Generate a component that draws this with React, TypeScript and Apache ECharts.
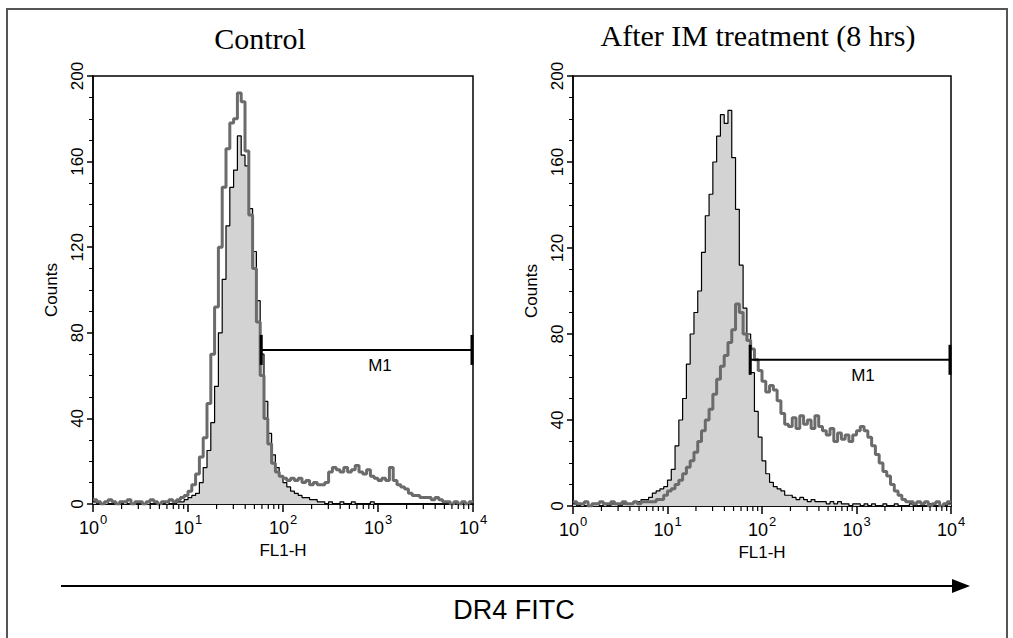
import React, { useEffect, useRef } from 'react';
import * as echarts from 'echarts';

// Histogram counts per log-channel bin (100 bins spanning 10^0 .. 10^4)
const LEFT_FILLED = [
  1, 0, 0, 1, 0, 0, 0, 0, 1, 0, 0, 0, 0, 0, 1, 0, 0, 0, 0, 1, 0, 0, 1,
  1, 2, 3, 4, 5, 10, 17, 25, 38, 55, 80, 105, 130, 148, 156, 172, 163, 158, 138, 118,
  95, 70, 48, 33, 23, 17, 13, 10, 8, 6, 5, 4, 3, 3, 2, 2, 1, 1,
  0, 1, 0, 0, 1, 0, 0, 1, 0, 0, 0, 0, 1, 0, 0, 0, 0, 0, 0, 0,
  0, 0, 0, 0, 0, 0, 0, 0, 0, 0, 0, 0, 0, 0, 0, 0, 0, 0, 0,
];
const LEFT_GRAY = [
  2, 1, 0, 1, 2, 1, 0, 1, 1, 2, 0, 1, 1, 0, 1, 2, 1, 0, 1, 1, 2, 1, 2,
  3, 4, 6, 9, 14, 22, 31, 47, 70, 92, 120, 148, 166, 178, 180, 192, 188, 165, 135, 110,
  85, 60, 40, 28, 19, 15, 13, 12, 11, 12, 11, 12, 10, 11, 9, 10, 9, 9, 10,
  15, 17, 16, 15, 17, 15, 16, 18, 15, 14, 16, 13, 12, 11, 12, 11, 17, 11, 9, 8,
  7, 5, 4, 4, 3, 3, 3, 2, 3, 2, 1, 1, 0, 1, 0, 1, 0, 1,
];
const RIGHT_FILLED = [
  1, 0, 1, 0, 0, 1, 1, 0, 1, 0, 1, 1, 0, 1, 1,
  1, 2, 2, 3, 3, 4, 6, 7, 8, 9, 12, 17, 28, 40, 50, 66, 80, 90, 100, 118,
  135, 145, 160, 172, 182, 178, 184, 162, 138, 112, 92, 80, 62, 44, 32, 21, 15, 11, 9, 8,
  7, 5, 5, 4, 3, 4, 3, 2, 3, 2, 2, 2, 1, 2, 1, 2,
  1, 1, 0, 1, 1, 0, 1, 0, 1, 0, 0, 1, 0, 0, 1, 0, 0, 0, 1, 0, 0, 0, 0, 1, 0, 0, 0, 0, 1,
];
const RIGHT_GRAY = [
  2, 1, 1, 2, 0, 1, 1, 2, 1, 1, 2, 1, 1, 2, 1, 1, 2, 1, 2, 2, 2,
  2, 3, 3, 5, 7, 8, 10, 12, 15, 18,
  21, 25, 30, 35, 40, 45, 52, 59, 65, 70,
  76, 82, 94, 90, 80, 77, 73, 68, 63, 58,
  53, 56, 54, 49, 43, 38, 37, 41, 36, 42,
  38, 40, 36, 42, 37, 35, 33, 36, 30, 34,
  31, 33, 30, 33, 35, 37, 35, 32, 28, 24,
  20, 16, 14, 10, 7, 5, 3, 2, 2, 1,
  2, 1, 2, 0, 1, 2, 0, 1, 2,
];

const TITLES = ['Control', 'After IM treatment (8 hrs)'];
const X_MIN = 1;
const X_MAX = 10000;
const Y_TICKS_MAX = 200;
const Y_INTERVAL = 40;
// M1 marker: [start, end, count level, label position]
const M1_LEFT = [59, 10000, 72, 1050];
const M1_RIGHT = [75, 10000, 68, 1170];

// bin left edges (log-spaced channels)
const CHANNELS = LEFT_FILLED.map((_, i) => Math.pow(10, (i * 4) / LEFT_FILLED.length));
const MINOR_TICKS: number[] = [];
[1, 10, 100, 1000].forEach((d) => {
  for (let m = 2; m <= 9; m++) MINOR_TICKS.push(d * m);
});

const SANS = "'Liberation Sans', Arial, Helvetica, sans-serif";
const SERIF = "'Liberation Serif', 'Times New Roman', serif";

function toSeries(counts: number[]) {
  const pts = counts.map((c, i) => [CHANNELS[i], c]);
  pts.push([X_MAX, counts[counts.length - 1]]);
  return pts;
}

export default function App() {
  const ref = useRef<HTMLDivElement>(null);
  useEffect(() => {
    if (!ref.current) return;
    const chart = echarts.init(ref.current, null, { renderer: 'svg' });
    const grids = [
      { left: 93, top: 76, width: 380, height: 428 },
      { left: 573, top: 76, width: 378, height: 430 },
    ];
    const xAxes: any[] = [];
    const yAxes: any[] = [];
    const series: any[] = [];
    const data = [
      [LEFT_FILLED, LEFT_GRAY, M1_LEFT],
      [RIGHT_FILLED, RIGHT_GRAY, M1_RIGHT],
    ];
    grids.forEach((g, i) => {
      xAxes.push({
        gridIndex: i,
        type: 'log',
        logBase: 10,
        min: X_MIN,
        max: X_MAX,
        name: 'FL1-H',
        nameLocation: 'middle',
        nameGap: 34,
        nameTextStyle: { fontFamily: SANS, fontSize: 17, color: '#000' },
        axisLine: { show: true, lineStyle: { color: '#000', width: 1.5 } },
        axisTick: { show: true, length: 8, lineStyle: { color: '#000', width: 1.5 } },
        splitLine: { show: false },
        axisLabel: {
          margin: 9,
          formatter: (v: number) => '{b|10}{s|' + Math.round(Math.log10(v)) + '}',
          rich: {
            b: { fontFamily: SANS, fontSize: 18, color: '#000', lineHeight: 24, verticalAlign: 'bottom' },
            s: { fontFamily: SANS, fontSize: 13, color: '#000', lineHeight: 13, verticalAlign: 'top', padding: [0, 0, 0, 1] },
          },
        },
      });
      yAxes.push({
        gridIndex: i,
        type: 'value',
        min: 0,
        max: Y_TICKS_MAX,
        interval: Y_INTERVAL,
        name: 'Counts',
        nameLocation: 'middle',
        nameGap: 33,
        nameTextStyle: { fontFamily: SANS, fontSize: 17, color: '#000' },
        axisLine: { show: true, lineStyle: { color: '#000', width: 1.5 } },
        axisTick: { show: true, length: 6, lineStyle: { color: '#000', width: 1.5 } },
        minorTick: { show: true, splitNumber: 4, length: 4, lineStyle: { color: '#000', width: 1 } },
        splitLine: { show: false },
        axisLabel: { rotate: 90, margin: 7, fontFamily: SANS, fontSize: 17, color: '#000' },
      });
      const [filled, gray, m1] = data[i] as [number[], number[], number[]];
      series.push({
        type: 'custom',
        xAxisIndex: i,
        yAxisIndex: i,
        data: MINOR_TICKS.map((v) => [v, 0]),
        encode: { x: 0, y: 1 },
        silent: true,
        z: 5,
        renderItem: (_p: any, api: any) => {
          const p = api.coord([api.value(0), 0]);
          return {
            type: 'line',
            shape: { x1: p[0], y1: p[1], x2: p[0], y2: p[1] + 5 },
            style: { stroke: '#000', lineWidth: 1.2 },
          };
        },
      });
      series.push({
        type: 'line',
        xAxisIndex: i,
        yAxisIndex: i,
        step: 'end',
        symbol: 'none',
        data: toSeries(filled),
        lineStyle: { color: '#000', width: 1.2 },
        areaStyle: { color: '#d3d3d3', opacity: 1 },
        z: 2,
      });
      series.push({
        type: 'line',
        xAxisIndex: i,
        yAxisIndex: i,
        step: 'end',
        symbol: 'none',
        data: toSeries(gray),
        lineStyle: { color: '#6b6b6b', width: 3 },
        z: 3,
      });
      series.push({
        type: 'custom',
        xAxisIndex: i,
        yAxisIndex: i,
        data: [m1],
        encode: { x: [0, 1, 3], y: 2 },
        z: 6,
        renderItem: (_p: any, api: any) => {
          const a = api.coord([api.value(0), api.value(2)]);
          const b = api.coord([api.value(1), api.value(2)]);
          const t = api.coord([api.value(3), api.value(2)]);
          return {
            type: 'group',
            children: [
              { type: 'line', shape: { x1: a[0], y1: a[1], x2: b[0], y2: b[1] }, style: { stroke: '#000', lineWidth: 2 } },
              { type: 'line', shape: { x1: a[0], y1: a[1] - 15, x2: a[0], y2: a[1] + 15 }, style: { stroke: '#000', lineWidth: 3 } },
              { type: 'line', shape: { x1: b[0] - 1, y1: b[1] - 15, x2: b[0] - 1, y2: b[1] + 15 }, style: { stroke: '#000', lineWidth: 3 } },
              {
                type: 'text',
                x: t[0],
                y: t[1] + 16,
                style: { text: 'M1', fill: '#000', font: '17px ' + SANS, textAlign: 'center', textVerticalAlign: 'middle' },
              },
            ],
          };
        },
      });
    });

    chart.setOption({
      animation: false,
      backgroundColor: '#fff',
      grid: grids.map((g) => ({ ...g, show: true, borderColor: '#000', borderWidth: 1.5, backgroundColor: '#fff' })),
      xAxis: xAxes,
      yAxis: yAxes,
      series,
      graphic: [
        { type: 'rect', shape: { x: 7, y: 9, width: 1000, height: 700 }, style: { fill: 'none', stroke: '#555', lineWidth: 2 }, z: -1 },
        { type: 'text', x: 260, y: 38, style: { text: TITLES[0], font: '30px ' + SERIF, fill: '#000', textAlign: 'center', textVerticalAlign: 'middle' } },
        { type: 'text', x: 758, y: 35, style: { text: TITLES[1], font: '30px ' + SERIF, fill: '#000', textAlign: 'center', textVerticalAlign: 'middle' } },
        { type: 'line', shape: { x1: 61, y1: 586, x2: 955, y2: 586 }, style: { stroke: '#000', lineWidth: 2 } },
        { type: 'polygon', shape: { points: [[952, 579], [970, 586], [952, 593]] }, style: { fill: '#000' } },
        { type: 'text', x: 514, y: 610, style: { text: 'DR4 FITC', font: '27px ' + SANS, fill: '#000', textAlign: 'center', textVerticalAlign: 'middle' } },
      ],
    });
    return () => chart.dispose();
  }, []);
  return (
    <div
      ref={ref}
      style={{ position: 'fixed', left: 0, top: 0, width: 1013, height: 638, background: '#fff' }}
    />
  );
}
